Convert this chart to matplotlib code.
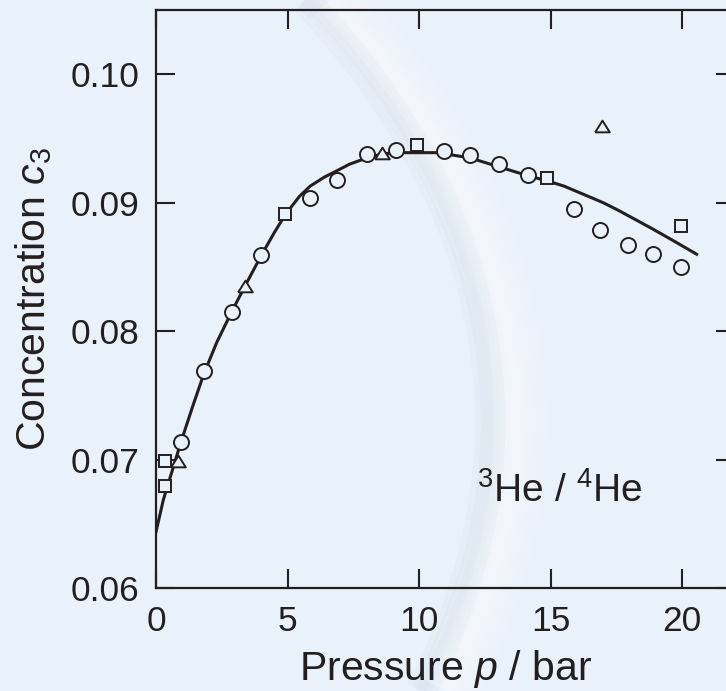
import matplotlib
matplotlib.use("Agg")
import matplotlib.pyplot as plt
from matplotlib.path import Path
from matplotlib.patches import PathPatch

# pressure p (bar) and 3He concentration c3
p_circle = [0.95, 1.82, 2.87, 4.0, 5.86, 6.88, 8.02, 9.12, 10.95, 11.92, 13.03, 14.14,
            15.87, 16.88, 17.92, 18.9, 19.96]
c_circle = [0.0714, 0.0769, 0.0815, 0.0859, 0.0904, 0.0918, 0.0938, 0.0941, 0.0940, 0.0937,
            0.0930, 0.0922, 0.0895, 0.0879, 0.0867, 0.0860, 0.0850]

p_square = [0.34, 0.34, 4.92, 9.90, 14.87, 19.96]
c_square = [0.0680, 0.0699, 0.0891, 0.0945, 0.0919, 0.0882]

p_tri = [0.85, 3.40, 8.59, 16.94]
c_tri = [0.0699, 0.0835, 0.0939, 0.0960]

# solid curve
p_fit = [0, 0.28, 0.95, 1.4, 1.82, 2.3, 2.87, 3.4, 4.0, 4.5, 4.92, 5.45, 5.86, 6.4, 6.88,
         7.35, 8.02, 8.6, 9.1, 10.0, 10.7, 11.92, 13.03, 14.14, 14.87, 15.5, 16.31, 17.0,
         17.58, 18.84, 19.7, 20.54]
c_fit = [0.0644, 0.0669, 0.0714, 0.0742, 0.0767, 0.0791, 0.0815, 0.0836, 0.0859, 0.0877,
         0.0891, 0.0905, 0.0913, 0.0920, 0.0925, 0.0930, 0.0935, 0.0938, 0.0939, 0.0939,
         0.0939, 0.0935, 0.0928, 0.0921, 0.0917, 0.0913, 0.0906, 0.0900, 0.0894, 0.0880,
         0.0870, 0.0860]

x_ticks = [0, 5, 10, 15, 20]
y_ticks = [0.06, 0.07, 0.08, 0.09, 0.10]
y_ticklabels = ["0.06", "0.07", "0.08", "0.09", "0.10"]

bg = "#e9f1fb"
ink = "#231f20"

plt.rcParams["font.family"] = ["Liberation Sans", "DejaVu Sans"]
plt.rcParams["mathtext.fontset"] = "custom"
plt.rcParams["mathtext.rm"] = "Liberation Sans"
plt.rcParams["mathtext.it"] = "Liberation Sans:italic"

fig = plt.figure(figsize=(7.26, 6.91), dpi=100, facecolor=bg)

# soft swoosh of the slide background (figure fractions)
def swoosh(dx, color, widths, alpha):
    verts = [(0.455 + dx, 1.0), (0.68 + dx, 0.75), (0.81 + dx, 0.40), (0.615 + dx, 0.0)]
    path = Path(verts, [Path.MOVETO, Path.CURVE4, Path.CURVE4, Path.CURVE4])
    for w in widths:
        fig.add_artist(PathPatch(path, transform=fig.transFigure, fill=False,
                                 edgecolor=color, lw=w, alpha=alpha,
                                 capstyle="butt", zorder=0))

swoosh(-0.035, "#aab4bf", [22, 14, 7], 0.05)
swoosh(0.0, "white", [44, 32, 22, 15, 9], 0.11)

# the right edge of the frame runs just past the picture border, as in the original
ax = fig.add_axes([0.2149, 0.1486, 0.7975, 0.8369])
ax.set_facecolor("none")

ax.plot(p_fit, c_fit, color=ink, lw=2.2, zorder=2)

ax.plot(p_circle, c_circle, ls="none", marker="o", ms=10.8, mew=1.4,
        mfc=bg, mec=ink, zorder=3)
ax.plot(p_square, c_square, ls="none", marker="s", ms=9.3, mew=1.4,
        mfc=bg, mec=ink, zorder=3)
tri = [(-1, -0.8), (1, -0.8), (0, 0.8), (-1, -0.8)]
ax.plot(p_tri, c_tri, ls="none", marker=tri, ms=10.5, mew=1.4,
        mfc=bg, mec=ink, zorder=3)

ax.set_xlim(0, 22)
ax.set_ylim(0.06, 0.105)
ax.set_xticks(x_ticks)
ax.set_yticks(y_ticks)
ax.set_yticklabels(y_ticklabels)

ax.tick_params(direction="in", length=13.5, width=1.5, colors=ink,
               labelsize=25.5, top=True, right=True)
ax.tick_params(axis="x", pad=12)
ax.tick_params(axis="y", pad=12)
for s in ax.spines.values():
    s.set_linewidth(1.6)
    s.set_color(ink)

ax.set_xlabel("Pressure $p$ / bar", fontsize=29.5, color=ink, labelpad=7)
ax.set_ylabel("Concentration $c_3$", fontsize=29.5, color=ink, labelpad=12)

ax.text(12.2, 0.0667, "$^{3}$He / $^{4}$He", fontsize=28, color=ink,
        ha="left", va="baseline")

plt.savefig("out.png", dpi=100, facecolor=bg)
